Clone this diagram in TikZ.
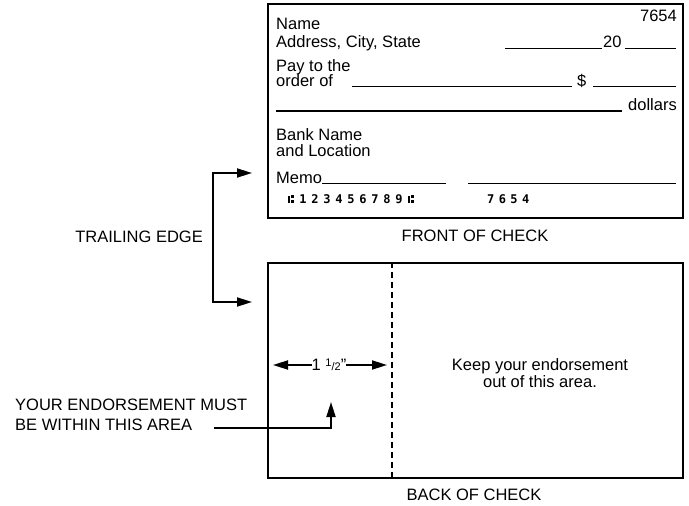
\documentclass[tikz,border=0pt]{standalone}
\usepackage{fontspec}
\setmainfont{Liberation Sans}
\newfontfamily\micrfont{DejaVu Sans Mono}
\usetikzlibrary{arrows.meta,positioning}

% transit symbol of the MICR line (no installed font has it)
\newcommand{\transitsym}{\rule{1.6pt}{7pt}\hspace{1.4pt}\rlap{\rule{3.2pt}{3.2pt}}\raisebox{5pt}{\rule{3.2pt}{3.2pt}}}

\begin{document}
\begin{tikzpicture}[x=1pt,y=-1pt,
  lbl/.style={inner sep=0pt,font=\fontsize{16.5}{18}\selectfont},
  micr/.style={inner sep=0pt,anchor=base,font=\micrfont\bfseries\fontsize{12}{12}\selectfont},
  cheque/.style={draw=black,line width=2.4pt,minimum width=415pt,minimum height=214pt,
                 inner sep=0pt,anchor=north west},
  fillline/.style={line width=1.6pt},
  arr/.style={-{Triangle[length=15pt,width=9pt]},line width=1.8pt},
  twoarr/.style={{Triangle[length=15pt,width=9pt]}-{Triangle[length=15pt,width=9pt]},line width=1.8pt},
  fold/.style={line width=2pt,dash pattern=on 6pt off 4pt}
]
\useasboundingbox (0,0) rectangle (689,506);

% front of check
\node[cheque] (front) at (267,3) {};
\node[lbl,anchor=base east] (num) at (677,21) {7654};
\node[lbl,anchor=base west] (name) at (276,30) {Name};
\node[lbl,anchor=base west] (addr) at (276,47.7) {Address, City, State};
\node[lbl,anchor=base west] (twenty) at (603,47.7) {20};
\draw[fillline] (505,48.5) -- (601.5,48.5);
\draw[fillline] (625,48.5) -- (676,48.5);
\node[lbl,anchor=base west] (pay) at (276,71) {Pay to the};
\node[lbl,anchor=base west] (order) at (276,86) {order of};
\node[lbl,anchor=base west] (dollar) at (577,86) {\$};
\draw[fillline] (352,86.5) -- (572,86.5);
\draw[fillline] (593,86.5) -- (676,86.5);
\draw[fillline] (276,111) -- (621.5,111);
\node[lbl,anchor=base east] (dollars) at (677,110) {dollars};
\node[lbl,anchor=base west] (bank) at (276,140) {Bank Name};
\node[lbl,anchor=base west] (loc) at (276,156.7) {and Location};
\node[lbl,anchor=base west] (memo) at (276,183.3) {Memo};
\draw[fillline] (322,183.5) -- (446,183.5);
\draw[fillline] (468,183.5) -- (676,183.5);
\foreach \c [count=\i] in {\transitsym,1,2,3,4,5,6,7,8,9,\transitsym}
  \node[micr] (m\i) at (279+12*\i,203) {\c};
\foreach \c [count=\i] in {7,6,5,4}
  \node[micr] (n\i) at (479+11.7*\i,203) {\c};
\node[lbl,anchor=base] (fronttxt) at (475,241.7) {FRONT OF CHECK};

% trailing edge
\node[lbl,anchor=base east] (trail) at (203,242) {TRAILING EDGE};
\coordinate (tt) at (252,173);
\coordinate (tb) at (252,302);
\coordinate (spine) at (213,237);
\draw[twoarr] (tt) -| (spine) |- (tb);

% back of check
\node[cheque,minimum height=215pt] (back) at (267,262) {};
\draw[fold] ([xshift=125pt]back.north west) -- ([xshift=125pt]back.south west);
\node[lbl] (half) at (329,365) {1 {\fontsize{11}{11}\selectfont\raisebox{4pt}{1}/2}"};
\coordinate (hl) at (273,365);
\coordinate (hr) at (387,365);
\draw[arr] (half.west) -- (hl);
\draw[arr] (half.east) -- (hr);
\node[lbl,anchor=base] (keep1) at (540,370.7) {Keep your endorsement};
\node[lbl,anchor=base] (keep2) at (540,387) {out of this area.};
\node[lbl,anchor=base west] (must1) at (15,410) {YOUR ENDORSEMENT MUST};
\node[lbl,anchor=base west] (must2) at (15,430) {BE WITHIN THIS AREA};
\coordinate (endstart) at (214,428);
\coordinate (endtip) at (331,402);
\draw[arr] (endstart) -| (endtip);
\node[lbl,anchor=base] (backtxt) at (474,500) {BACK OF CHECK};
\end{tikzpicture}
\end{document}
